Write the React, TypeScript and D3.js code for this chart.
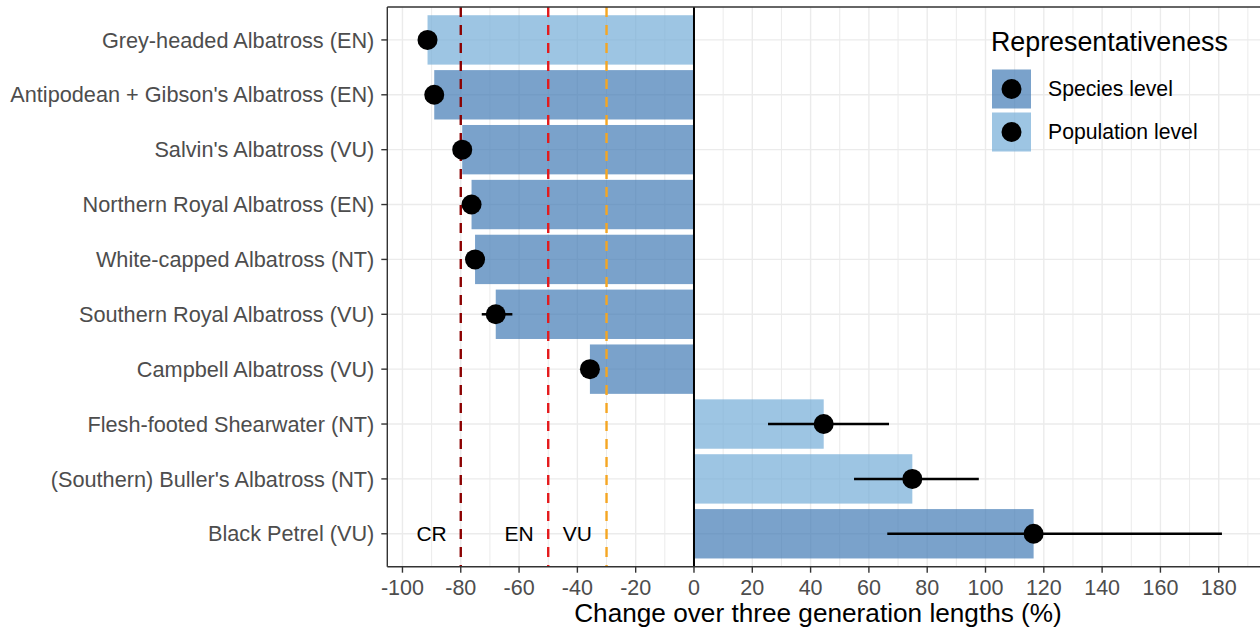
import React from "react";
import * as d3 from "d3";

// species, top to bottom
const species = [
  "Grey-headed Albatross (EN)",
  "Antipodean + Gibson's Albatross (EN)",
  "Salvin's Albatross (VU)",
  "Northern Royal Albatross (EN)",
  "White-capped Albatross (NT)",
  "Southern Royal Albatross (VU)",
  "Campbell Albatross (VU)",
  "Flesh-footed Shearwater (NT)",
  "(Southern) Buller's Albatross (NT)",
  "Black Petrel (VU)",
];
const change = [-91.4, -89.1, -79.5, -76.3, -75.1, -68.0, -35.7, 44.5, 74.9, 116.5];
const lower: (number | null)[] = [null, null, null, null, null, -72.8, null, 25.4, 54.9, 66.3];
const upper: (number | null)[] = [null, null, null, null, null, -62.3, null, 66.9, 97.7, 181.1];
const level = [
  "Population level",
  "Species level",
  "Species level",
  "Species level",
  "Species level",
  "Species level",
  "Species level",
  "Population level",
  "Population level",
  "Species level",
];

const levels = ["Species level", "Population level"];
const levelColors = ["#427AB5", "#73ADD7"];

const thresholds = [-80, -50, -30];
const thresholdColors = ["#8B0000", "#E41A1C", "#F5A623"];
const categoryLabels = [
  { text: "CR", x: -90 },
  { text: "EN", x: -60 },
  { text: "VU", x: -40 },
];

const xTicks = d3.range(-100, 181, 20);
const xMinor = d3.range(-90, 191, 20);

const W = 1260;
const H = 633;
const left = 387.3;
const top = 7;
const bottom = 566.7;
const font = "'Liberation Sans', Arial, sans-serif";

export default function App() {
  const x = d3.scaleLinear().domain([-105.2, 195.7]).range([left, 1264.5]);
  const y = d3.scalePoint<string>().domain(species).range([top, bottom]).padding(0.6);
  const step = y.step();
  const barH = step * 0.9;
  const color = d3.scaleOrdinal<string, string>().domain(levels).range(levelColors);

  return (
    <svg
      width={W}
      height={H}
      style={{ position: "absolute", left: 0, top: 0, background: "#fff" }}
      fontFamily={font}
    >
      {/* grid */}
      {xMinor.map((t) => (
        <line key={"mn" + t} x1={x(t)} x2={x(t)} y1={top} y2={bottom} stroke="#EBEBEB" strokeWidth={1} />
      ))}
      {xTicks.map((t) => (
        <line key={"mj" + t} x1={x(t)} x2={x(t)} y1={top} y2={bottom} stroke="#EBEBEB" strokeWidth={1.4} />
      ))}
      {species.map((s) => (
        <line key={"h" + s} x1={left} x2={W} y1={y(s)} y2={y(s)} stroke="#EBEBEB" strokeWidth={1.4} />
      ))}

      {/* bars */}
      {species.map((s, i) => (
        <rect
          key={"b" + s}
          x={Math.min(x(0), x(change[i]))}
          width={Math.abs(x(change[i]) - x(0))}
          y={(y(s) as number) - barH / 2}
          height={barH}
          fill={color(level[i])}
          fillOpacity={0.7}
        />
      ))}

      {/* threshold lines */}
      {thresholds.map((t, i) => (
        <line
          key={"t" + t}
          x1={x(t)}
          x2={x(t)}
          y1={top}
          y2={bottom}
          stroke={thresholdColors[i]}
          strokeWidth={2.4}
          strokeDasharray="10 8"
        />
      ))}
      <line x1={x(0)} x2={x(0)} y1={top} y2={bottom} stroke="#000" strokeWidth={2} />

      {categoryLabels.map((c) => (
        <text
          key={c.text}
          x={x(c.x)}
          y={(y(species[species.length - 1]) as number) + 7.5}
          textAnchor="middle"
          fontSize={21}
          fill="#000"
        >
          {c.text}
        </text>
      ))}

      {/* error bars and points */}
      {species.map((s, i) =>
        lower[i] !== null && upper[i] !== null ? (
          <line
            key={"e" + s}
            x1={x(lower[i] as number)}
            x2={x(upper[i] as number)}
            y1={y(s)}
            y2={y(s)}
            stroke="#000"
            strokeWidth={2.5}
          />
        ) : null
      )}
      {species.map((s, i) => (
        <circle key={"p" + s} cx={x(change[i])} cy={y(s)} r={10} fill="#000" />
      ))}

      {/* panel border */}
      <line x1={left} x2={W} y1={top} y2={top} stroke="#333" strokeWidth={1.4} />
      <line x1={left} x2={W} y1={bottom} y2={bottom} stroke="#333" strokeWidth={1.4} />
      <line x1={left} x2={left} y1={top} y2={bottom} stroke="#333" strokeWidth={1.4} />

      {/* y axis */}
      {species.map((s) => (
        <g key={"yl" + s} transform={`translate(0,${y(s)})`}>
          <line x1={left - 6} x2={left} stroke="#333" strokeWidth={1.4} />
          <text x={left - 13} dy="0.35em" textAnchor="end" fontSize={21.7} fill="#4D4D4D">
            {s}
          </text>
        </g>
      ))}

      {/* x axis */}
      {xTicks.map((t) => (
        <g key={"xl" + t} transform={`translate(${x(t)},${bottom})`}>
          <line y1={0} y2={6} stroke="#333" strokeWidth={1.4} />
          <text y={28.5} textAnchor="middle" fontSize={21.5} fill="#4D4D4D">
            {t}
          </text>
        </g>
      ))}
      <text x={818} y={622} textAnchor="middle" fontSize={26.2} fill="#000">
        Change over three generation lengths (%)
      </text>

      {/* legend */}
      <text x={991} y={51} fontSize={26.8} fill="#000">
        Representativeness
      </text>
      {levels.map((l, i) => {
        const ky = 69.5 + i * 43;
        return (
          <g key={"lg" + l}>
            <rect x={992} y={ky} width={39} height={39} fill={color(l)} fillOpacity={0.7} />
            <circle cx={1011.5} cy={ky + 19.5} r={10} fill="#000" />
            <text x={1048} y={ky + 19.5} dy="0.35em" fontSize={21.2} fill="#000">
              {l}
            </text>
          </g>
        );
      })}
    </svg>
  );
}
